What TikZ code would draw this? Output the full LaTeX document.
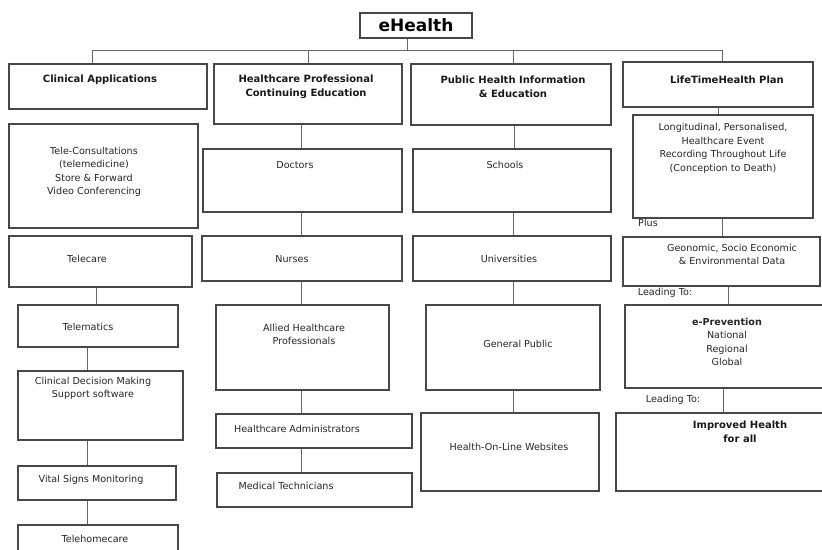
\documentclass[tikz,border=0pt]{standalone}
\usepackage{fontspec}
\setmainfont{DejaVu Sans}
\begin{document}
\begin{tikzpicture}[x=1pt,y=-1pt,
  box/.style={draw=black!72,line width=1.2pt,inner sep=0pt,fill=white},
  lbl/.style={align=center,inner sep=0pt,text=black!85,font=\fontsize{9.6}{13.5}\selectfont},
  blbl/.style={align=center,inner sep=0pt,text=black!90,font=\fontsize{10}{14}\selectfont\bfseries},
  conn/.style={draw=black!60,line width=1pt}]
\useasboundingbox (0,0) rectangle (822,549);
\clip (0,0) rectangle (822,549);
\newcommand\bx[5]{\node[box,minimum width={#4-#2},minimum height={#5-#3}] (#1) at ({(#2+#4)/2},{(#3+#5)/2}) {};}
\newcommand\cn[3]{\draw[conn] (#1.south -| #3,0) -- (#2.north -| #3,0);}
% top
\node[box,minimum width=112,minimum height=25,font=\fontsize{17}{20}\selectfont\bfseries] (eh) at (416,25.5) {eHealth};
\coordinate (j0) at (407,50);
\coordinate (busL) at (92,50);
\coordinate (j1) at (308,50);
\coordinate (j2) at (513,50);
\coordinate (busR) at (722,50);
% row 1
\bx{ca}{9}{64}{207}{109}
\bx{hp}{214}{64}{402}{124}
\bx{ph}{411}{64}{611}{125}
\bx{lt}{623}{62}{813}{107}
\draw[conn] (eh.south -| j0) -- (j0);
\draw[conn] (busL) -- (busR);
\draw[conn] (busL) -- (ca.north -| busL);
\draw[conn] (j1) -- (hp.north -| j1);
\draw[conn] (j2) -- (ph.north -| j2);
\draw[conn] (busR) -- (lt.north -| busR);
% row 2
\bx{tc}{9}{124}{198}{228}
\bx{doc}{203}{149}{402}{212}
\bx{sch}{413}{149}{611}{212}
\bx{lon}{633}{115}{813}{218}
% row 3
\bx{tcr}{9}{236}{192}{287}
\bx{nur}{202}{236}{402}{281}
\bx{uni}{413}{236}{611}{281}
\bx{geo}{623}{237}{820}{286}
% row 4
\bx{tmt}{18}{305}{178}{347}
\bx{all}{216}{305}{389}{390}
\bx{gp}{426}{305}{600}{390}
\bx{epr}{625}{305}{830}{388}
% row 5
\bx{cdm}{18}{371}{183}{440}
\bx{adm}{216}{414}{412}{448}
\bx{hol}{421}{413}{599}{491}
\bx{imp}{616}{413}{830}{491}
% row 6
\bx{vsm}{18}{466}{176}{500}
\bx{med}{217}{473}{412}{507}
% row 7
\bx{thc}{18}{525}{178}{565}
% connectors
\cn{hp}{doc}{301}
\cn{doc}{nur}{301}
\cn{nur}{all}{301}
\cn{all}{adm}{301}
\cn{adm}{med}{301}
\cn{ph}{sch}{514}
\cn{sch}{uni}{513}
\cn{uni}{gp}{513}
\cn{gp}{hol}{513}
\cn{lt}{lon}{718}
\cn{lon}{geo}{722}
\cn{geo}{epr}{728}
\cn{epr}{imp}{723}
\cn{tcr}{tmt}{96}
\cn{tmt}{cdm}{87}
\cn{cdm}{vsm}{87}
\cn{vsm}{thc}{87}
% labels
\node[blbl] (tca) at (100,80) {Clinical Applications};
\node[blbl] (thp) at (306,87) {Healthcare Professional\\Continuing Education};
\node[blbl] (tph) at (513,87) {Public Health Information\\\& Education};
\node[blbl] (tlt) at (727,80) {LifeTimeHealth Plan};
\node[lbl] (ttc) at (94,172) {Tele-Consultations\\(telemedicine)\\Store \& Forward\\Video Conferencing};
\node[lbl] (tdoc) at (295,165) {Doctors};
\node[lbl] (tsch) at (505,165) {Schools};
\node[lbl] (tlon) at (723,148.5) {Longitudinal, Personalised,\\Healthcare Event\\Recording Throughout Life\\(Conception to Death)};
\node[lbl] (ttcr) at (87,259) {Telecare};
\node[lbl] (tnur) at (292,259) {Nurses};
\node[lbl] (tuni) at (509,259) {Universities};
\node[lbl] (tgeo) at (732,254.5) {Geonomic, Socio Economic\\\& Environmental Data};
\node[lbl] (tplus) at (648,223) {Plus};
\node[lbl] (ttmt) at (88,327) {Telematics};
\node[lbl] (tall) at (304,334.5) {Allied Healthcare\\Professionals};
\node[lbl] (tgp) at (518,344) {General Public};
\node[lbl] (tlead1) at (665,293) {Leading To:};
\node[lbl] (tepr) at (727,342) {{\bfseries e-Prevention}\\National\\Regional\\Global};
\node[lbl] (tcdm) at (93,388.5) {Clinical Decision Making\\Support software};
\node[lbl] (tadm) at (297,429) {Healthcare Administrators};
\node[lbl] (thol) at (509,447) {Health-On-Line Websites};
\node[lbl] (tlead2) at (673,400) {Leading To:};
\node[blbl] (timp) at (740,432) {Improved Health\\for all};
\node[lbl] (tvsm) at (91,480) {Vital Signs Monitoring};
\node[lbl] (tmed) at (286,486) {Medical Technicians};
\node[lbl] (tthc) at (95,539) {Telehomecare};
\end{tikzpicture}
\end{document}
